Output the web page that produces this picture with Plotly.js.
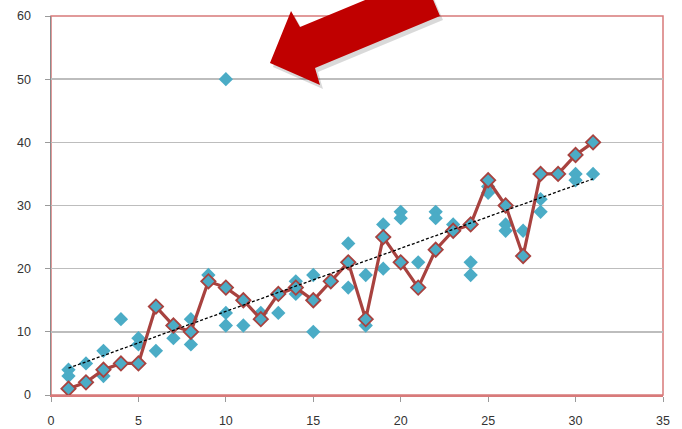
<!DOCTYPE html>
<html>
<head>
<meta charset="utf-8">
<script src="https://cdn.plot.ly/plotly-3.0.1.min.js"></script>
<style>html,body{margin:0;padding:0;background:#fff;}#chart{width:682px;height:429px;}</style>
</head>
<body>
<div id="chart"></div>
<script>
// Main series (connected line)
const lineX = [1,2,3,4,5,6,7,8,9,10,11,12,13,14,15,16,17,18,19,20,21,22,23,24,25,26,27,28,29,30,31];
const lineY = [1,2,4,5,5,14,11,10,18,17,15,12,16,17,15,18,21,12,25,21,17,23,26,27,34,30,22,35,35,38,40];

// Additional observations (markers only)
const extraX = [1,1,2,3,3,4,5,5,6,7,8,8,9,10,10,10,11,12,13,14,14,15,15,17,17,18,18,19,19,20,20,21,22,22,23,24,24,25,25,26,26,27,28,28,30,30,31];
const extraY = [4,3,5,7,3,12,9,8,7,9,12,8,19,50,13,11,11,13,13,18,16,19,10,24,17,19,11,27,20,29,28,21,29,28,27,21,19,33,32,27,26,26,31,29,35,34,35];

const xTicks = [0,5,10,15,20,25,30,35];
const yTicks = [0,10,20,30,40,50,60];

// Linear trendline (least squares over all observations)
const fitX = lineX.concat(extraX), fitY = lineY.concat(extraY);
const n = fitX.length;
const mx = fitX.reduce((a,b)=>a+b,0)/n, my = fitY.reduce((a,b)=>a+b,0)/n;
let sxy=0, sxx=0;
for (let i=0;i<n;i++){ sxy += (fitX[i]-mx)*(fitY[i]-my); sxx += (fitX[i]-mx)*(fitX[i]-mx); }
const slope = sxy/sxx, icpt = my - slope*mx;
const tX = [Math.min(...lineX), Math.max(...lineX)];
const tY = tX.map(v => icpt + slope*v);

const blue = '#4bacc6', red = '#a8423f';

const traces = [
  {x: extraX, y: extraY, type:'scatter', mode:'markers',
   marker:{symbol:'diamond', size:11, color: blue, line:{width:0}}, hoverinfo:'skip'},
  {x: lineX, y: lineY, type:'scatter', mode:'lines+markers',
   line:{color: red, width:3.2},
   marker:{symbol:'diamond', size:11, color: blue, line:{color: red, width:1.8}}},
  {x: tX, y: tY, type:'scatter', mode:'lines',
   line:{color:'#000', width:1.3, dash:'3px,2px'}}
];

// pixel -> paper helpers for the decorative arrow
const L=51, W=612, T=16, H=379;
const px = v => ((v-L)/W).toFixed(4), py = v => ((T+H-v)/H).toFixed(4);
const arrowPts = [[270,63],[291,11],[300,27],[423,-24],[440,16],[315,68],[320,85]];
const pathOf = (pts, dx, dy) => 'M ' + pts.map(p => px(p[0]+dx)+' '+py(p[1]+dy)).join(' L ') + ' Z';

const layout = {
  width:682, height:429,
  margin:{l:51, r:19, t:16, b:34},
  paper_bgcolor:'#fff', plot_bgcolor:'#fff',
  showlegend:false,
  font:{family:'Liberation Sans, Arial, sans-serif', size:12.5, color:'#333'},
  xaxis:{range:[0,35], tickvals:xTicks, showgrid:false, zeroline:false,
         showline:true, linecolor:'#d87a7a', linewidth:1.5,
         ticks:'outside', ticklen:5, tickcolor:'#9a9a9a', tickwidth:1, ticklabelstandoff:8},
  yaxis:{range:[0,60], tickvals:yTicks, showgrid:true, gridcolor:'#bdbdbd', gridwidth:1.5,
         zeroline:false, showline:true, linecolor:'#8a8a8a', linewidth:1.5,
         ticks:'outside', ticklen:5, tickcolor:'#9a9a9a', tickwidth:1, ticklabelstandoff:11},
  shapes:[
    {type:'rect', xref:'paper', yref:'paper', x0:0, x1:1, y0:0, y1:1,
     line:{color:'#d87a7a', width:1.5}, layer:'below'},
    {type:'path', xref:'paper', yref:'paper', path:pathOf(arrowPts,3,4),
     fillcolor:'rgba(0,0,0,0.15)', line:{width:0}},
    {type:'path', xref:'paper', yref:'paper', path:pathOf(arrowPts,0,0),
     fillcolor:'#c00000', line:{width:0}}
  ]
};

Plotly.newPlot('chart', traces, layout, {displayModeBar:false, staticPlot:true});
</script>
</body>
</html>
